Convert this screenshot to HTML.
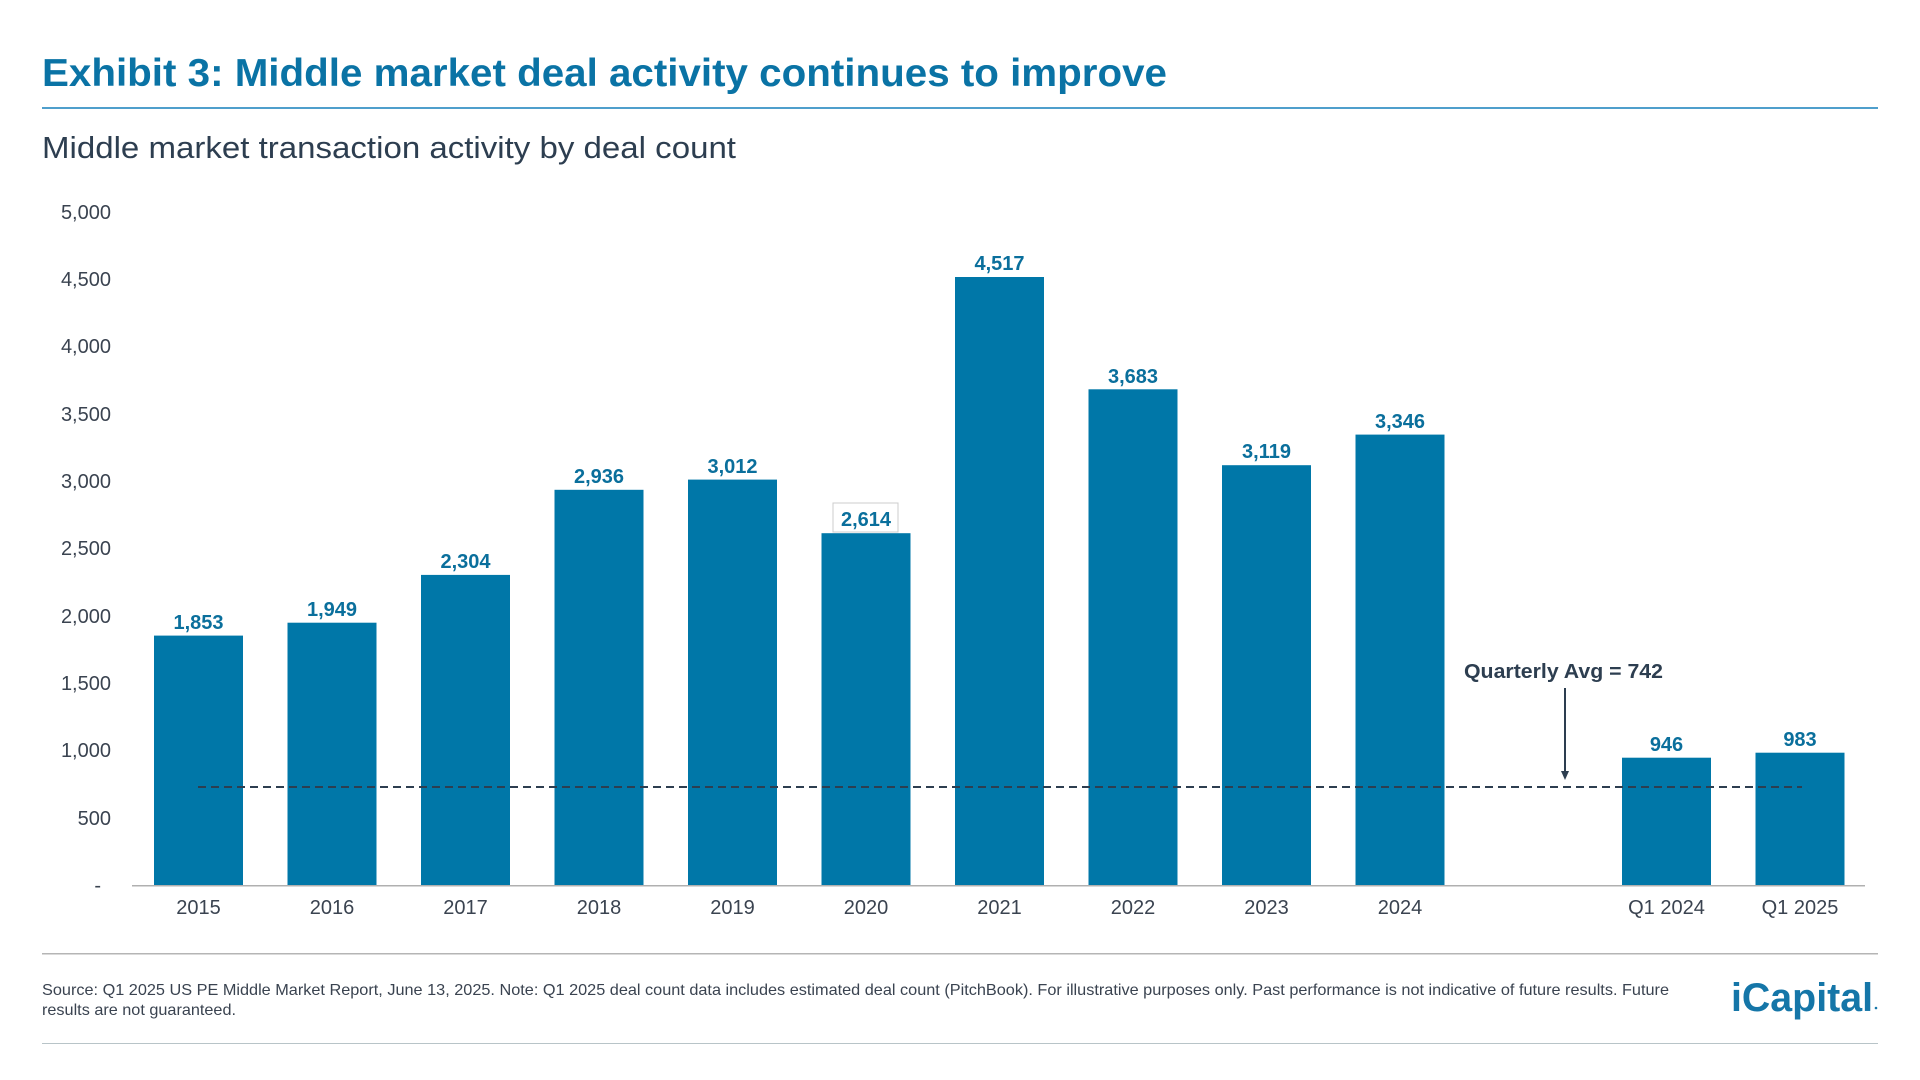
<!DOCTYPE html>
<html><head><meta charset="utf-8"><style>
body{margin:0;background:#fff;}
svg{display:block}
text{font-family:"Liberation Sans",sans-serif}
</style></head><body>
<svg width="1920" height="1080" xmlns="http://www.w3.org/2000/svg">
<text x="42" y="86" font-size="39" font-weight="bold" fill="#0a73a5" textLength="1125" lengthAdjust="spacingAndGlyphs">Exhibit 3: Middle market deal activity continues to improve</text>
<rect x="42" y="107" width="1836" height="2" fill="#4f9fcc"/>
<text x="42" y="158" font-size="31" fill="#2d3e50" textLength="694" lengthAdjust="spacingAndGlyphs">Middle market transaction activity by deal count</text>
<g font-size="20" fill="#3a4350" text-anchor="end">
<text x="111" y="219">5,000</text><text x="111" y="286">4,500</text><text x="111" y="353">4,000</text>
<text x="111" y="421">3,500</text><text x="111" y="488">3,000</text><text x="111" y="555">2,500</text>
<text x="111" y="623">2,000</text><text x="111" y="690">1,500</text><text x="111" y="757">1,000</text>
<text x="111" y="825">500</text><text x="101" y="892">-</text>
</g>
<g fill="#0077a8">
<rect x="154" y="635.6" width="89" height="249.4"/>
<rect x="287.5" y="622.7" width="89" height="262.3"/>
<rect x="421" y="574.9" width="89" height="310.1"/>
<rect x="554.5" y="489.8" width="89" height="395.2"/>
<rect x="688" y="479.6" width="89" height="405.4"/>
<rect x="821.5" y="533.2" width="89" height="351.8"/>
<rect x="955" y="277" width="89" height="608"/>
<rect x="1088.5" y="389.3" width="89" height="495.7"/>
<rect x="1222" y="465.2" width="89" height="419.8"/>
<rect x="1355.5" y="434.6" width="89" height="450.4"/>
<rect x="1622" y="757.7" width="89" height="127.3"/>
<rect x="1755.5" y="752.7" width="89" height="132.3"/>
</g>
<rect x="833" y="503" width="65" height="29" fill="#fff" stroke="#ccc" stroke-width="1"/>
<g font-size="20" font-weight="bold" fill="#0a6f9c" text-anchor="middle">
<text x="198.5" y="629">1,853</text><text x="332" y="616">1,949</text><text x="465.5" y="568">2,304</text>
<text x="599" y="483">2,936</text><text x="732.5" y="473">3,012</text><text x="866" y="526">2,614</text>
<text x="999.5" y="270">4,517</text><text x="1133" y="383">3,683</text><text x="1266.5" y="458">3,119</text>
<text x="1400" y="428">3,346</text><text x="1666.5" y="751">946</text><text x="1800" y="746">983</text>
</g>
<rect x="132" y="885" width="1733" height="1.5" fill="#b0b0b0"/>
<line x1="198" y1="787" x2="1802" y2="787" stroke="#2d3e50" stroke-width="2" stroke-dasharray="8,5"/>
<text x="1464" y="678" font-size="20" font-weight="bold" fill="#2d3e50" textLength="199" lengthAdjust="spacingAndGlyphs">Quarterly Avg = 742</text>
<line x1="1565" y1="688" x2="1565" y2="772" stroke="#2d3e50" stroke-width="2"/>
<polygon points="1561,771 1569,771 1565,780" fill="#2d3e50"/>
<g font-size="20" fill="#3a4350" text-anchor="middle">
<text x="198.5" y="914">2015</text><text x="332" y="914">2016</text><text x="465.5" y="914">2017</text>
<text x="599" y="914">2018</text><text x="732.5" y="914">2019</text><text x="866" y="914">2020</text>
<text x="999.5" y="914">2021</text><text x="1133" y="914">2022</text><text x="1266.5" y="914">2023</text>
<text x="1400" y="914">2024</text><text x="1666.5" y="914">Q1 2024</text><text x="1800" y="914">Q1 2025</text>
</g>
<rect x="42" y="953" width="1836" height="1.5" fill="#b5b5b5"/>
<g font-size="16" fill="#3a4350">
<text x="42" y="995" textLength="1627" lengthAdjust="spacingAndGlyphs">Source: Q1 2025 US PE Middle Market Report, June 13, 2025. Note: Q1 2025 deal count data includes estimated deal count (PitchBook). For illustrative purposes only. Past performance is not indicative of future results. Future</text>
<text x="42" y="1015" textLength="194" lengthAdjust="spacingAndGlyphs">results are not guaranteed.</text>
</g>
<text x="1731" y="1011" font-size="40" font-weight="bold" fill="#1576a8" font-family="Liberation Serif,serif" textLength="142" lengthAdjust="spacingAndGlyphs">iCapital</text>
<circle cx="1876" cy="1008" r="1.3" fill="#1576a8"/>
<rect x="42" y="1043" width="1836" height="1" fill="#b8c4c8"/>
</svg>
</body></html>
